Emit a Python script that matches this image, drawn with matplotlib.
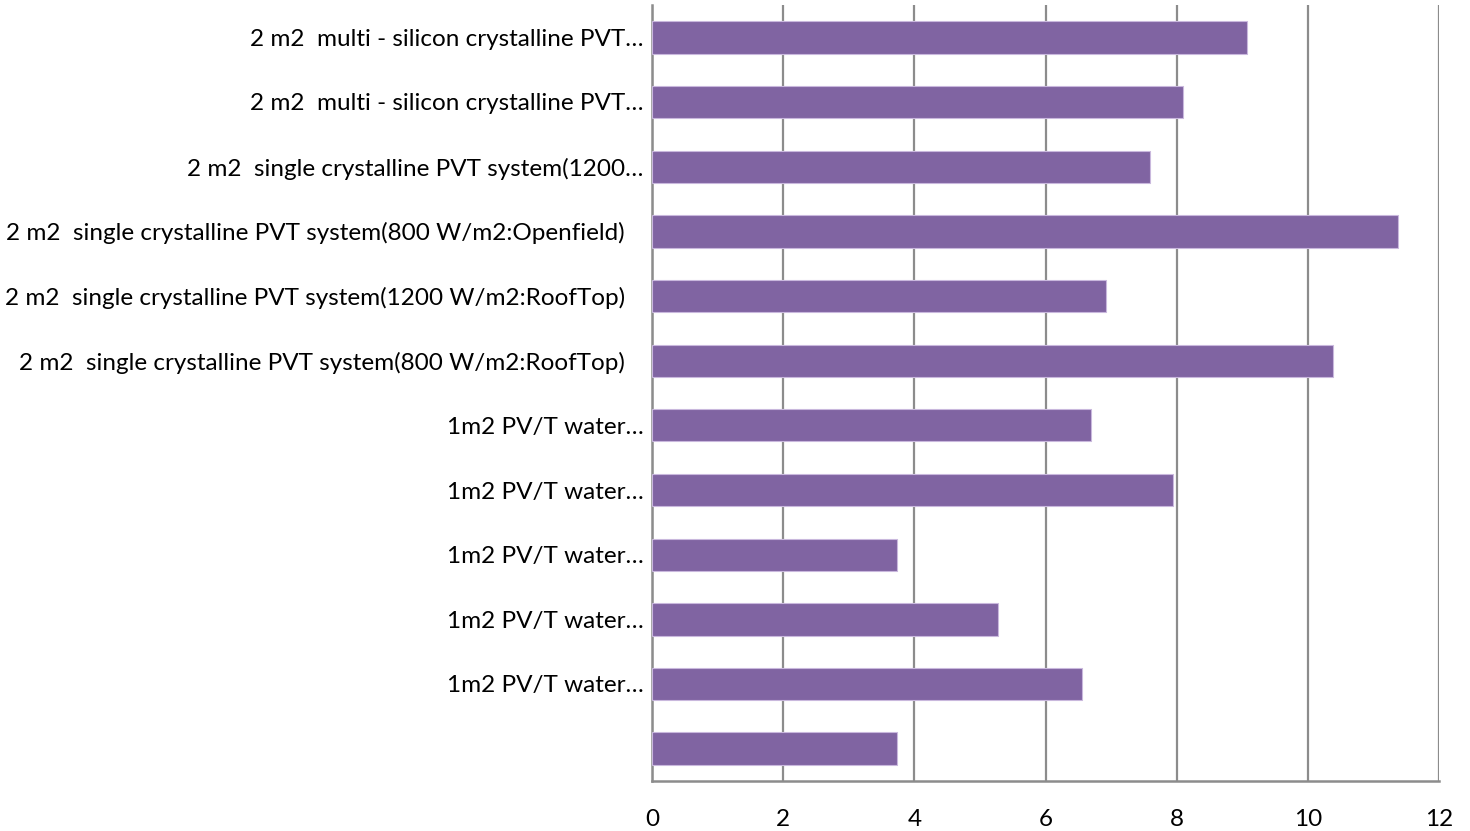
import matplotlib
matplotlib.use("Agg")
import matplotlib.pyplot as plt

labels = [
    "2 m2  multi - silicon crystalline PVT…",
    "2 m2  multi - silicon crystalline PVT…",
    "2 m2  single crystalline PVT system(1200…",
    "2 m2  single crystalline PVT system(800 W/m2:Openfield)   ",
    "2 m2  single crystalline PVT system(1200 W/m2:RoofTop)   ",
    "2 m2  single crystalline PVT system(800 W/m2:RoofTop)   ",
    "1m2 PV/T water…",
    "1m2 PV/T water…",
    "1m2 PV/T water…",
    "1m2 PV/T water…",
    "1m2 PV/T water…",
    "",
]
values = [9.07, 8.09, 7.59, 11.38, 6.93, 10.39, 6.69, 7.95, 3.74, 5.28, 6.55, 3.74]
xticks = [0, 2, 4, 6, 8, 10, 12]

plt.rcParams['font.family'] = ['Lato', 'DejaVu Sans']

fig = plt.figure(figsize=(14.7, 8.31), dpi=100)
ax = fig.add_axes([652/1470, 1-781/831, (1439-652)/1470, (781-5)/831])

ypos = list(range(len(values)))
ax.barh(ypos, values, height=0.5, color="#8064A2", edgecolor="#C9B8DD", linewidth=0.8, zorder=3)
ax.set_ylim(len(values)-0.5, -0.5)
ax.set_xlim(0, 12)
ax.set_xticks(xticks)
ax.set_xticklabels([str(t) for t in xticks], fontsize=17.5)
ax.set_yticks(ypos)
ax.set_yticklabels(labels, fontsize=17.5)
ax.tick_params(axis='both', length=0)
ax.tick_params(axis='x', pad=20)
ax.tick_params(axis='y', pad=6)
ax.grid(axis='x', color="#8C8C8C", linewidth=1.6, zorder=0)
for s in ['top', 'right']:
    ax.spines[s].set_visible(False)
for s in ['left', 'bottom']:
    ax.spines[s].set_color("#8C8C8C")
    ax.spines[s].set_linewidth(1.8)

fig.savefig("out.png", dpi=100)
